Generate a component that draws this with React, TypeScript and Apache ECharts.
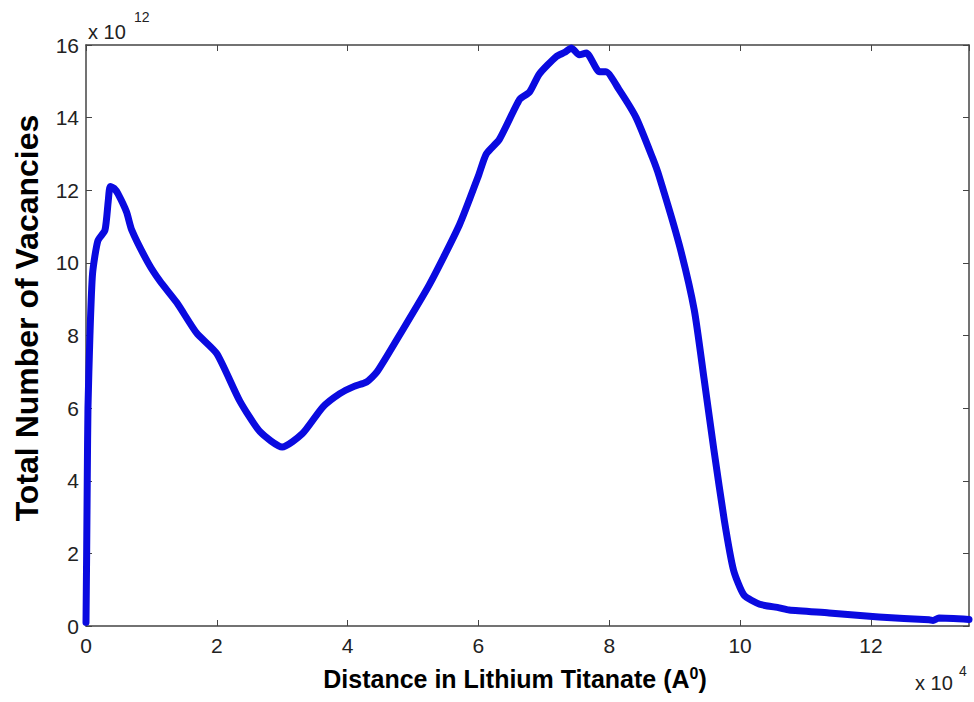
import React, { useEffect, useRef } from "react";
import * as echarts from "echarts";

// Distance (x 10^4 Å) and total vacancies (x 10^12)
const distance = [
  0, 0.01, 0.02, 0.03, 0.06, 0.1, 0.18, 0.29, 0.34, 0.37, 0.43, 0.49, 0.62, 0.7, 0.95, 1.13, 1.39,
  1.69, 2.0, 2.35, 2.66, 3.0, 3.31, 3.62, 3.88, 4.1, 4.29, 4.45, 4.79, 5.25, 5.71, 6.0, 6.12, 6.32,
  6.63, 6.78, 6.93, 7.19, 7.32, 7.42, 7.54, 7.65, 7.85, 7.95, 8.15, 8.41, 8.66, 8.76, 9.07, 9.3,
  9.45, 9.6, 9.76, 9.9, 10.06, 10.3, 10.6, 10.75, 11.36, 12.12, 12.89, 12.95, 13.04, 13.5,
];
const vacancies = [
  0.1, 2.0, 4.2, 6.0, 8.0, 9.7, 10.6, 10.9, 11.7, 12.1, 12.05, 11.9, 11.4, 10.9, 10.0, 9.5, 8.9,
  8.07, 7.5, 6.2, 5.35, 4.93, 5.3, 6.03, 6.4, 6.6, 6.72, 7.0, 8.0, 9.4, 11.05, 12.4, 13.0, 13.4,
  14.5, 14.7, 15.2, 15.68, 15.8, 15.92, 15.73, 15.78, 15.26, 15.26, 14.77, 14.0, 12.9, 12.4, 10.5,
  8.7, 6.8, 4.85, 2.9, 1.54, 0.85, 0.6, 0.5, 0.44, 0.36, 0.25, 0.17, 0.15, 0.22, 0.18,
];
const xTicks = [0, 2, 4, 6, 8, 10, 12];
const yTicks = [0, 2, 4, 6, 8, 10, 12, 14, 16];

const GRID = { left: 86, right: 5, top: 45, bottom: 76 };
const AXIS_COLOR = "#444";
const LABEL_COLOR = "#222";
const FONT = "Liberation Sans, Arial, sans-serif";

export default function App() {
  const ref = useRef<HTMLDivElement>(null);

  useEffect(() => {
    if (!ref.current) return;
    const chart = echarts.init(ref.current, null, { renderer: "svg" });
    const data = distance.map((d, i) => [d, vacancies[i]]);

    const baseX = {
      type: "value" as const,
      min: 0,
      max: 13.5,
      interval: 2,
      axisLine: { show: true, onZero: false, lineStyle: { color: AXIS_COLOR, width: 1.5 } },
      axisTick: { show: true, inside: true, length: 6, lineStyle: { color: AXIS_COLOR } },
      splitLine: { show: false },
    };
    const baseY = {
      type: "value" as const,
      min: 0,
      max: 16,
      interval: 2,
      axisLine: { show: true, onZero: false, lineStyle: { color: AXIS_COLOR, width: 1.5 } },
      axisTick: { show: true, inside: true, length: 6, lineStyle: { color: AXIS_COLOR } },
      splitLine: { show: false },
    };

    chart.setOption({
      animation: false,
      backgroundColor: "#ffffff",
      grid: { ...GRID, containLabel: false },
      xAxis: [
        {
          ...baseX,
          position: "bottom",
          axisLabel: {
            show: true,
            color: LABEL_COLOR,
            fontSize: 21,
            fontFamily: FONT,
            margin: 9,
            showMaxLabel: false,
            formatter: (v: number) => (xTicks.includes(v) ? String(v) : ""),
          },
        },
        { ...baseX, position: "top", axisLabel: { show: false } },
      ],
      yAxis: [
        {
          ...baseY,
          position: "left",
          axisLabel: {
            show: true,
            color: LABEL_COLOR,
            fontSize: 21,
            fontFamily: FONT,
            margin: 7,
            formatter: (v: number) => (yTicks.includes(v) ? String(v) : ""),
          },
        },
        { ...baseY, position: "right", axisLabel: { show: false } },
      ],
      series: [
        {
          type: "line",
          data,
          xAxisIndex: 0,
          yAxisIndex: 0,
          showSymbol: false,
          smooth: 0.2,
          lineStyle: { color: "#0a0ae0", width: 7, cap: "round", join: "round" },
          clip: true,
        },
      ],
      graphic: [
        {
          type: "text",
          x: 27,
          y: 318,
          rotation: Math.PI / 2,
          style: {
            text: "Total Number of Vacancies",
            font: `bold 32px ${FONT}`,
            fill: "#000",
            align: "center",
            verticalAlign: "middle",
          },
        },
        {
          type: "text",
          x: 515,
          y: 679,
          style: {
            text: "Distance in Lithium Titanate (A{sup|0})",
            font: `bold 25px ${FONT}`,
            fill: "#000",
            align: "center",
            verticalAlign: "middle",
            rich: {
              sup: { font: `bold 16px ${FONT}`, fill: "#000", verticalAlign: "top", padding: [0, 0, 12, 0] },
            },
          },
        },
        {
          type: "text",
          x: 88,
          y: 22,
          style: { text: "x 10", font: `20px ${FONT}`, fill: LABEL_COLOR, verticalAlign: "top" },
        },
        {
          type: "text",
          x: 134,
          y: 10,
          style: { text: "12", font: `14px ${FONT}`, fill: LABEL_COLOR, verticalAlign: "top" },
        },
        {
          type: "text",
          x: 915,
          y: 673,
          style: { text: "x 10", font: `20px ${FONT}`, fill: LABEL_COLOR, verticalAlign: "top" },
        },
        {
          type: "text",
          x: 959,
          y: 664,
          style: { text: "4", font: `14px ${FONT}`, fill: LABEL_COLOR, verticalAlign: "top" },
        },
      ],
    });
    return () => chart.dispose();
  }, []);

  return (
    <div
      ref={ref}
      style={{ position: "fixed", left: 0, top: 0, width: 974, height: 702, background: "#fff" }}
    />
  );
}
